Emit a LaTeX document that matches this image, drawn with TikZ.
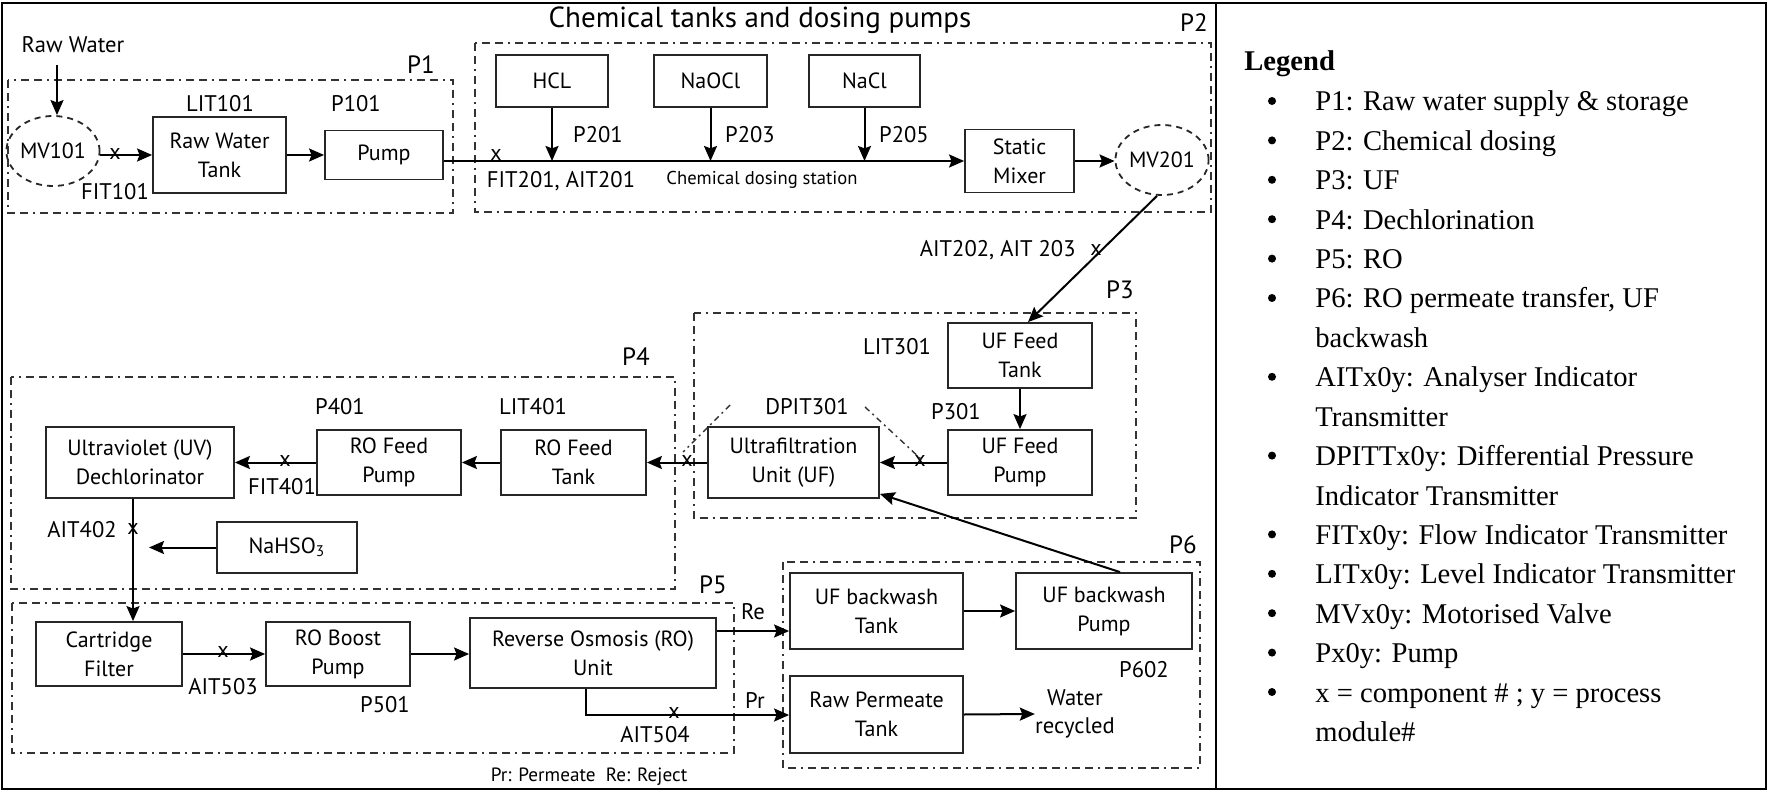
\documentclass[tikz,border=0pt]{standalone}
\usepackage{fontspec}
\setmainfont{PT Sans}
\newfontfamily\legfont{Liberation Serif}
\usetikzlibrary{arrows.meta,shapes.geometric}
\begin{document}
\begin{tikzpicture}[x=0.5pt,y=-0.5pt,
  frame/.style={draw=black, line width=1.4pt},
  box/.style={draw=black!85, line width=0.9pt, align=center, inner sep=0pt, font=\fontsize{11}{14.5}\selectfont},
  sz/.style 2 args={minimum width=#1, minimum height=#2},
  valve/.style={ellipse, draw=black!85, line width=0.9pt, dash pattern=on 3pt off 2.5pt, inner sep=0pt, minimum width=40pt, minimum height=35pt, font=\fontsize{11}{13}\selectfont},
  region/.style={draw=black!80, line width=0.9pt, dash pattern=on 4pt off 2.5pt on 4pt off 2.5pt on 1pt off 2.5pt},
  dpit/.style={draw=black!80, line width=0.7pt, dash pattern=on 3pt off 2pt on 1pt off 2pt},
  arr/.style={draw=black, line width=1pt, -{Stealth[length=7.5pt,width=6.5pt,inset=1.2pt]}},
  lab/.style={font=\fontsize{11.3}{14}\selectfont, inner sep=0pt, align=center},
  plab/.style={font=\fontsize{12.5}{15}\selectfont, inner sep=0pt},
  small/.style={font=\fontsize{9.3}{11}\selectfont, inner sep=0pt},
  xm/.style={font=\fontsize{11}{12}\selectfont, inner sep=0pt},
  leg/.style={font=\legfont\fontsize{14.3}{19.7}\selectfont, inner sep=0pt, anchor=base west}]
\useasboundingbox (0,0) rectangle (1770,796);

% frames
\draw[frame] (2,3) rectangle (1216,789);
\draw[frame] (1216,3) rectangle (1766,789);

% title
\node[font=\fontsize{14.5}{17}\selectfont, inner sep=0pt] (title) at (760,20) {Chemical tanks and dosing pumps};

% regions
\draw[region] (8,80) rectangle (453,213);
\draw[region] (475,43) rectangle (1211,212);
\draw[region] (694,313) rectangle (1136,518);
\draw[region] (11,377) rectangle (675,589);
\draw[region] (12,603) rectangle (734,753);
\draw[region] (783,562) rectangle (1200,768);
\node[plab] (p1) at (421,65) {P1};
\node[plab] (p2) at (1194,23) {P2};
\node[plab] (p3) at (1120,290) {P3};
\node[plab] (p4) at (636,357) {P4};
\node[plab] (p5) at (713,585) {P5};
\node[plab] (p6) at (1183,545) {P6};

% ---------- P1
\node[lab] (rawwater) at (73,45) {Raw Water};
\coordinate (rwtop) at (57,65);
\node[valve] (mv101) at (53,151) {MV101};
\node[box, sz={66.5pt}{38pt}] (rwt) at (219.5,155) {Raw Water\\Tank};
\node[box, sz={59pt}{24.5pt}] (pump) at (384,155) {Pump};
\draw[arr] (rwtop) -- (rwtop |- mv101.north);
\draw[arr] (mv101.east |- rwt.west) -- (rwt.west);
\node[xm] (x1) at (115,154) {x};
\node[lab] (fit101) at (115,192) {FIT101};
\node[lab] (lit101) at (220,104) {LIT101};
\node[lab] (p101) at (356,104) {P101};
\draw[arr] (rwt.east) -- (pump.west);

% ---------- P2
\node[box, sz={56pt}{26pt}] (hcl) at (552,81) {HCL};
\node[box, sz={56.5pt}{26pt}] (naocl) at (710.5,81) {NaOCl};
\node[box, sz={55.5pt}{26pt}] (nacl) at (864.5,81) {NaCl};
\node[box, sz={54.5pt}{31.5pt}] (mixer) at (1019.5,161) {Static\\Mixer};
\node[valve] (mv201) at (1162,160) {MV201};
\draw[arr] (pump.east |- mixer.west) -- (mixer.west);
\draw[arr] (hcl.south) -- (hcl.south |- mixer.west);
\draw[arr] (naocl.south) -- (naocl.south |- mixer.west);
\draw[arr] (nacl.south) -- (nacl.south |- mixer.west);
\draw[arr] (mixer.east) -- (mixer.east -| mv201.west);
\node[xm] (x2) at (496,155) {x};
\node[lab] (fit201) at (561,181) {FIT201, AIT201};
\node[small] (cds) at (762,180) {Chemical dosing station};
\node[lab] (p201) at (598,135) {P201};
\node[lab] (p203) at (750,135) {P203};
\node[lab] (p205) at (904,135) {P205};

% ---------- P3
\node[box, sz={72pt}{32.5pt}] (uft) at (1020,355.5) {UF Feed\\Tank};
\node[box, sz={72pt}{32.5pt}] (ufp) at (1020,462.5) {UF Feed\\Pump};
\node[box, sz={85.5pt}{35.5pt}] (uf) at (793.5,462.5) {Ultrafiltration\\Unit (UF)};
\draw[arr] ([xshift=-2.5pt]mv201.south) -- ([xshift=4pt]uft.north);
\node[xm] (x3) at (1096,250) {x};
\node[lab, anchor=east] (ait202) at (1076,250) {AIT202, AIT 203};
\node[lab] (lit301) at (897,347) {LIT301};
\node[lab] (p301) at (956,412) {P301};
\node[lab] (dpit301) at (807,407) {DPIT301};
\draw[arr] (uft.south) -- (ufp.north);
\draw[arr] (ufp.west) -- (uf.east);
\node[xm] (x4) at (920,461) {x};
\coordinate (dl1) at (730,405);
\coordinate (dl2) at (683,452);
\coordinate (dr1) at (865,407);
\coordinate (dr2) at (922,460);
\draw[dpit] (dl1) -- (dl2);
\draw[dpit] (dr1) -- (dr2);

% ---------- P4
\node[box, sz={72.5pt}{32.5pt}] (roft) at (573.5,462.5) {RO Feed\\Tank};
\node[box, sz={72pt}{32.5pt}] (rofp) at (389,462.5) {RO Feed\\Pump};
\node[box, sz={94pt}{35.5pt}] (uv) at (140,462.5) {Ultraviolet (UV)\\Dechlorinator};
\node[box, sz={70pt}{25.5pt}] (nahso3) at (287,547.5) {NaHSO\textsubscript{3}};
\draw[arr] (uf.west) -- (roft.east);
\node[xm] (x5) at (687,461) {x};
\draw[arr] (roft.west) -- (rofp.east);
\draw[arr] (rofp.west) -- (uv.east);
\node[xm] (x6) at (285,461) {x};
\node[lab] (p401) at (340,407) {P401};
\node[lab] (lit401) at (533,407) {LIT401};
\node[lab] (fit401) at (282,487) {FIT401};
\coordinate (vl) at (133,0);
\coordinate (nahtip) at (149,547.5);
\draw[arr] (nahso3.west) -- (nahtip);

% ---------- P5
\node[box, sz={73pt}{32pt}] (cf) at (109,654) {Cartridge\\Filter};
\node[box, sz={72pt}{32pt}] (robp) at (338,654) {RO Boost\\Pump};
\node[box, sz={123pt}{35pt}] (ro) at (593,653) {Reverse Osmosis (RO)\\Unit};
\draw[arr] (vl |- uv.south) -- (vl |- cf.north);
\node[xm] (x7) at (133,529) {x};
\node[lab] (ait402) at (82,530) {AIT402};
\draw[arr] (cf.east) -- (robp.west);
\node[xm] (x8) at (223,652) {x};
\node[lab] (ait503) at (223,687) {AIT503};
\node[lab] (p501) at (385,705) {P501};
\draw[arr] (robp.east) -- (robp.east -| ro.west);

% ---------- P6
\node[box, sz={86.5pt}{38pt}] (ufbt) at (876.5,611) {UF backwash\\Tank};
\node[box, sz={88pt}{38pt}] (ufbp) at (1104,611) {UF backwash\\Pump};
\node[box, sz={86.5pt}{38.5pt}] (rpt) at (876.5,714.5) {Raw Permeate\\Tank};
\node[lab] (wr) at (1075,714) {Water\\recycled};
\coordinate (rey) at (0,631);
\coordinate (prc) at (586,715);
\draw[arr] (ro.east |- rey) -- (ufbt.west |- rey);
\draw[arr] (ro.south -| prc) -- (prc) -- (rpt.west |- prc);
\node[xm] (x9) at (674,713) {x};
\node[lab] (ait504) at (655,735) {AIT504};
\node[lab] (re) at (753,612) {Re};
\node[lab] (pr) at (755,700) {Pr};
\draw[arr] (ufbt.east) -- (ufbp.west);
\draw[arr] (rpt.east) -- (wr.west);
\node[lab] (p602) at (1144,670) {P602};
\draw[arr] ([xshift=8pt]ufbp.north) -- ([yshift=2.5pt]uf.south east);
\node[small, font=\fontsize{9.6}{11}\selectfont] (note) at (589,777) {Pr: Permeate\ \ Re: Reject};

% ---------- Legend
\node[leg, font=\legfont\bfseries\fontsize{14.3}{19.7}\selectfont] (legend) at (1244,71) {Legend};
\node[leg] (l0) at (1315,111) {P1: Raw water supply \& storage};
\node[leg] (l1) at (1315,150.4) {P2: Chemical dosing};
\node[leg] (l2) at (1315,189.8) {P3: UF};
\node[leg] (l3) at (1315,229.2) {P4: Dechlorination};
\node[leg] (l4) at (1315,268.6) {P5: RO};
\node[leg] (l5) at (1315,308) {P6: RO permeate transfer, UF};
\node[leg] (l6) at (1315,347.4) {backwash};
\node[leg] (l7) at (1315,386.8) {AITx0y: Analyser Indicator};
\node[leg] (l8) at (1315,426.2) {Transmitter};
\node[leg] (l9) at (1315,465.6) {DPITTx0y: Differential Pressure};
\node[leg] (l10) at (1315,505) {Indicator Transmitter};
\node[leg] (l11) at (1315,544.4) {FITx0y: Flow Indicator Transmitter};
\node[leg] (l12) at (1315,583.8) {LITx0y: Level Indicator Transmitter};
\node[leg] (l13) at (1315,623.2) {MVx0y: Motorised Valve};
\node[leg] (l14) at (1315,662.6) {Px0y: Pump};
\node[leg] (l15) at (1315,702) {x = component \# ; y = process};
\node[leg] (l16) at (1315,741.4) {module\#};
\foreach \yy in {111,150.4,189.8,229.2,268.6,308,386.8,465.6,544.4,583.8,623.2,662.6,702}
  \fill (1272,\yy-10) circle (2pt);
\end{tikzpicture}
\end{document}
